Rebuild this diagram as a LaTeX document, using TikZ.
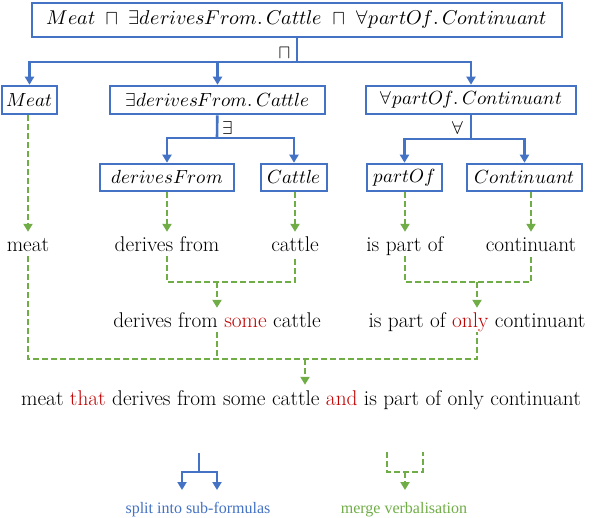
\documentclass[tikz,border=0pt]{standalone}
\usepackage{fontspec}
\usepackage{unicode-math}
\usetikzlibrary{arrows.meta}
\newfontfamily\legendfont{Liberation Serif}
\definecolor{splitblue}{HTML}{4472C4}
\definecolor{mergegreen}{HTML}{70AD47}
\definecolor{wordred}{HTML}{C00000}
\tikzset{
    formula/.style={draw=splitblue, line width=2.6pt, inner sep=0pt, minimum height=28pt, font=\fontsize{19}{22}\selectfont},
    verbal/.style={inner sep=0pt, anchor=base, text height=20pt, text depth=4pt, font=\fontsize{21.3}{26}\selectfont},
    oplabel/.style={font=\fontsize{19}{22}\selectfont},
    split/.style={splitblue, line width=2.6pt},
    merge/.style={mergegreen, line width=2.2pt, dash pattern=on 6pt off 3pt},
    pointy/.style={-{Triangle[length=8pt,width=9pt]}},
    legend/.style={font=\legendfont\fontsize{16}{18}\selectfont},
}
\newcommand{\red}[1]{\textcolor{wordred}{#1}}
\begin{document}
\begin{tikzpicture}[x=1pt,y=-1pt]
    \useasboundingbox (0,0) rectangle (594,518);
    % formulas
    \node[formula, minimum width=530pt, minimum height=34pt, font=\fontsize{20}{24}\selectfont] (whole) at (297,20) {$Meat \;\sqcap\; \exists derivesFrom.\,Cattle \;\sqcap\; \forall partOf.\,Continuant$};
    \node[formula, minimum width=55pt] (meat) at (29.5,100) {$Meat$};
    \node[formula, minimum width=215pt] (some) at (217.5,100) {$\exists derivesFrom.\,Cattle$};
    \node[formula, minimum width=210pt] (only) at (471,100) {$\forall partOf.\,Continuant$};
    \node[formula, minimum width=134pt, minimum height=27pt] (derives) at (167,177.5) {$derivesFrom$};
    \node[formula, minimum width=66pt, minimum height=27pt] (cattle) at (294,177.5) {$Cattle$};
    \node[formula, minimum width=75pt, minimum height=27pt] (partof) at (404.5,177.5) {$partOf$};
    \node[formula, minimum width=115pt, minimum height=27pt] (continuant) at (524.5,177.5) {$Continuant$};
    \node[oplabel] (andop) at (285,53) {$\sqcap$};
    \node[oplabel] (someop) at (228,128) {$\exists$};
    \node[oplabel] (onlyop) at (458,128) {$\forall$};
    % verbalisations
    \node[verbal] (meatv) at (28,252) {meat};
    \node[verbal] (derivesv) at (167,252) {derives from};
    \node[verbal] (cattlev) at (295,252) {cattle};
    \node[verbal] (partofv) at (405,252) {is part of};
    \node[verbal] (continuantv) at (531,252) {continuant};
    \node[verbal] (somev) at (217,328) {derives from \red{some} cattle};
    \node[verbal] (onlyv) at (477,328) {is part of \red{only} continuant};
    \node[verbal] (wholev) at (301,405) {meat \red{that} derives from some cattle \red{and} is part of only continuant};
    % splitting
    \coordinate (s1) at (297,62);
    \coordinate (s2) at (217,138);
    \coordinate (s3) at (471,139);
    \draw[split] (whole) -- (s1);
    \draw[split,pointy] (s1) -| (meat);
    \draw[split,pointy] (s1) -| (some);
    \draw[split,pointy] (s1) -| (only);
    \draw[split] (some) -- (s2);
    \draw[split,pointy] (s2) -| (derives);
    \draw[split,pointy] (s2) -| (cattle);
    \draw[split] (only) -- (s3);
    \draw[split,pointy] (s3) -| (partof);
    \draw[split,pointy] (s3) -| (continuant);
    % merging
    \draw[merge,pointy] (meat.south -| meatv) -- (meatv.north);
    \draw[merge,pointy] (derives.south -| derivesv) -- (derivesv.north);
    \draw[merge,pointy] (cattle.south -| cattlev) -- (cattlev.north);
    \draw[merge,pointy] (partof.south -| partofv) -- (partofv.north);
    \draw[merge,pointy] (continuant.south -| continuantv) -- (continuantv.north);
    \coordinate (m1) at (217,282);
    \coordinate (m2) at (477,282);
    \coordinate (m3) at (305,359);
    \draw[merge] (derivesv.south) |- (m1) -| (cattlev.south);
    \draw[merge,pointy] (m1) -- (somev.north);
    \draw[merge] (partofv.south) |- (m2) -| (continuantv.south);
    \draw[merge,pointy] (m2) -- (onlyv.north);
    \draw[merge] (meatv.south) |- (m3) -| (onlyv.south);
    \draw[merge] (somev.south) -- (somev.south |- m3);
    \draw[merge,pointy] (m3) -- (m3 |- wholev.north);
    % legend
    \draw[split] (199,453) -- (199,472);
    \draw[split,pointy] (199,472) -| (182,490);
    \draw[split,pointy] (199,472) -| (217,490);
    \draw[merge] (387,452) |- (423,472) -- (423,452);
    \draw[merge,pointy] (405,472) -- (405,490);
    \node[legend, text=splitblue] (splitkey) at (198,510) {split into sub-formulas};
    \node[legend, text=mergegreen] (mergekey) at (404,510) {merge verbalisation};
\end{tikzpicture}
\end{document}
